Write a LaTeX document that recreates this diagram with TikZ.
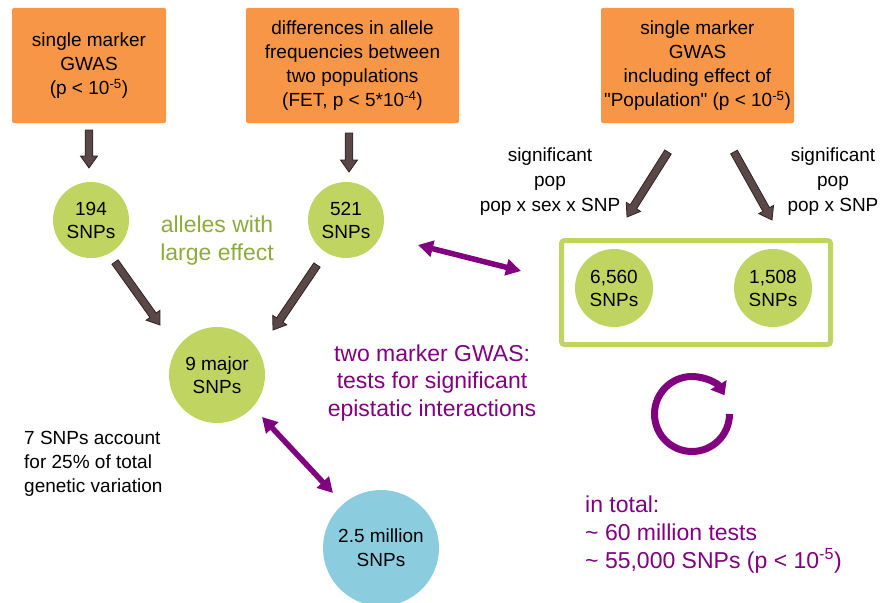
\documentclass[tikz,border=0pt]{standalone}
\usepackage{fontspec}
\setmainfont{Liberation Sans}[Ligatures=TeXOff]
\usetikzlibrary{arrows.meta,calc}
\definecolor{boxorange}{HTML}{F79646}
\definecolor{snpgreen}{HTML}{C0D461}
\definecolor{snpblue}{HTML}{8BCDDE}
\definecolor{epipurple}{HTML}{800080}
\definecolor{txtgreen}{HTML}{8DAB3A}
\definecolor{arrowfill}{HTML}{5A4848}
\definecolor{arrowline}{HTML}{2E2323}
\newcommand\blockarrow[3]{%
  \coordinate (#1h) at ($(#3)!12pt!(#2)$);
  \draw[blockarr] ($(#2)!3.8pt!90:(#3)$) -- ($(#1h)!3.8pt!-90:(#2)$) -- ($(#1h)!8.5pt!-90:(#2)$) -- (#3) -- ($(#1h)!8.5pt!90:(#2)$) -- ($(#1h)!3.8pt!90:(#2)$) -- ($(#2)!3.8pt!-90:(#3)$) -- cycle;}
\tikzset{
  box/.style={fill=boxorange, rounded corners=2pt, minimum height=115pt, inner sep=0pt, align=center, font=\fontsize{19}{24}\selectfont},
  snp/.style={circle, fill=snpgreen, inner sep=0pt, align=center, font=\fontsize{19}{23}\selectfont},
  blockarr/.style={fill=arrowfill, draw=arrowline, line width=0.8pt, line join=miter},
  epiarrow/.style={draw=epipurple, line width=5.5pt, {Triangle[width=16pt,length=15pt]}-{Triangle[width=16pt,length=15pt]}},
  plain/.style={align=center, inner sep=0pt, font=\fontsize{19}{25}\selectfont},
  big/.style={inner sep=0pt, font=\fontsize{23}{28}\selectfont},
}
\begin{document}
\begin{tikzpicture}[x=1pt,y=-1pt]
\useasboundingbox (0,0) rectangle (880,602);
% top boxes
\node[box, minimum width=154pt] (b1) at (89,65.5) {single marker\\GWAS\\(p < 10\textsuperscript{-5})};
\node[box, minimum width=213pt] (b2) at (352.5,65.5) {differences in allele\\frequencies between\\two populations\\(FET, p < 5*10\textsuperscript{-4})};
\node[box, minimum width=193pt] (b3) at (697.5,65.5) {single marker\\GWAS\\including effect of\\"Population" (p < 10\textsuperscript{-5})};
% circles
\node[snp, minimum size=76pt] (c194) at (91,220) {194\\SNPs};
\node[snp, minimum size=76pt] (c521) at (346,220) {521\\SNPs};
\node[snp, minimum size=96pt] (c9) at (217,375) {9 major\\SNPs};
\node[circle, fill=snpblue, inner sep=0pt, align=center, font=\fontsize{19}{24}\selectfont, minimum size=116pt] (c25) at (381,548) {2.5 million\\SNPs};
% group box
\node[draw=snpgreen, line width=5pt, rounded corners=3pt, minimum width=269pt, minimum height=104pt, inner sep=0pt] (grp) at (696,292.5) {};
\node[snp, minimum size=78pt] (c6560) at (614,288) {6,560\\SNPs};
\node[snp, minimum size=78pt] (c1508) at (773,288) {1,508\\SNPs};
% texts
\node[big, text=txtgreen, align=center] (allel) at (217,241) {alleles with\\large effect};
\node[big, text=epipurple, align=center, font=\fontsize{23}{27.5}\selectfont] (epi) at (432,383) {two marker GWAS:\\tests for significant\\epistatic interactions};
\node[plain, align=left, font=\fontsize{19}{24}\selectfont, anchor=west] (acc) at (24,464) {7 SNPs account\\for 25\% of total\\genetic variation};
\node[plain] (sigl) at (550,182) {significant\\pop\\pop x sex x SNP};
\node[plain] (sigr) at (833,182) {significant\\pop\\pop x SNP};
\node[inner sep=0pt, align=left, anchor=west, text=epipurple, font=\fontsize{23}{28}\selectfont] (tot) at (585,535) {in total:\\\textasciitilde{} 60 million tests\\\textasciitilde{} 55,000 SNPs (p < 10\textsuperscript{-5})};
% block arrows
\coordinate (a1s) at (89,130);   \coordinate (a1e) at (89,168);
\coordinate (a2s) at (349,133);  \coordinate (a2e) at (349,172);
\coordinate (a3s) at (115,262);  \coordinate (a3e) at (160,325);
\coordinate (a4s) at (317,265);  \coordinate (a4e) at (273,330);
\coordinate (a5s) at (668,152);  \coordinate (a5e) at (627,217);
\coordinate (a6s) at (734,152);  \coordinate (a6e) at (772,220);
\blockarrow{a1}{a1s}{a1e}
\blockarrow{a2}{a2s}{a2e}
\blockarrow{a3}{a3s}{a3e}
\blockarrow{a4}{a4s}{a4e}
\blockarrow{a5}{a5s}{a5e}
\blockarrow{a6}{a6s}{a6e}
% purple double arrows
\coordinate (p1s) at (418,245); \coordinate (p1e) at (521,271);
\coordinate (p2s) at (262,417); \coordinate (p2e) at (333,493);
\draw[epiarrow] (p1s) -- (p1e);
\draw[epiarrow] (p2s) -- (p2e);
% circular arrow
\coordinate (cc) at (692,414);
\draw[draw=epipurple, line width=7pt, -{Triangle[width=18pt,length=12pt]}] ($(cc)+(0:37.5)$) arc[start angle=0, end angle=330, radius=37.5];
\end{tikzpicture}
\end{document}
